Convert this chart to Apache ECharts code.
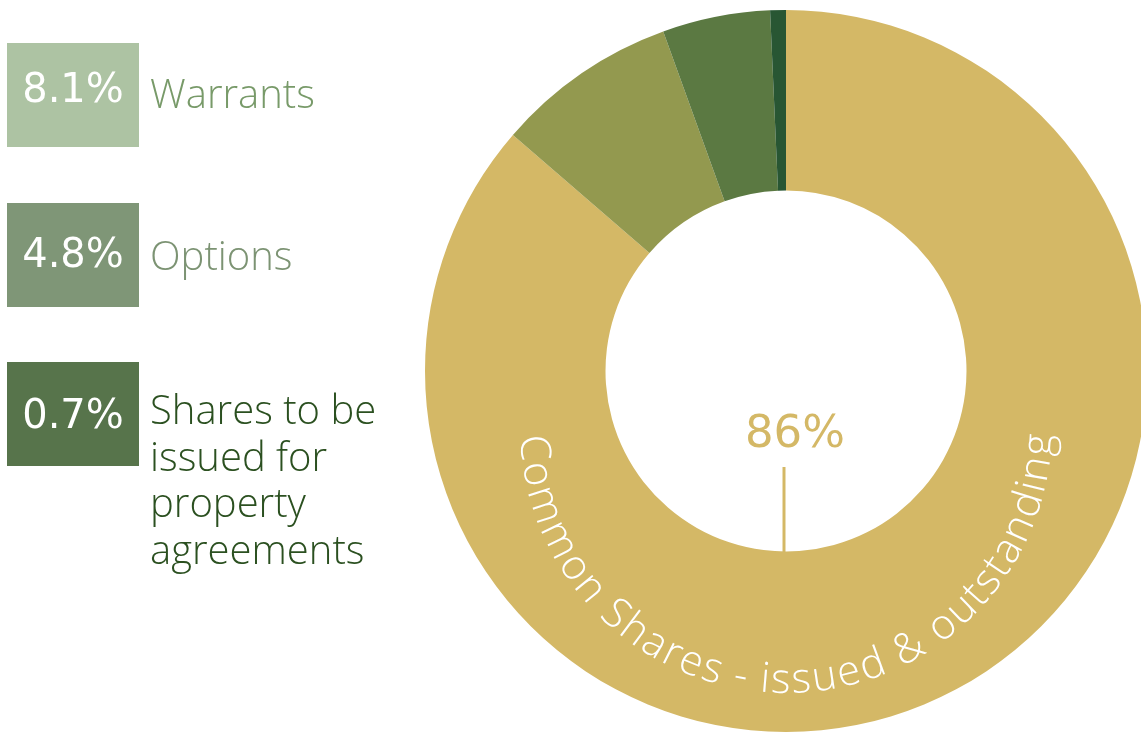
<!DOCTYPE html>
<html>
<head>
<meta charset="utf-8">
<script src="https://cdn.jsdelivr.net/npm/echarts@6/dist/echarts.min.js"></script>
<style>
html,body{margin:0;padding:0;background:#ffffff;}
#chart{width:1141px;height:733px;}
</style>
</head>
<body>
<div id="chart"></div>
<script>
// ---- data ----
const categories = ['Common Shares - issued & outstanding', 'Warrants', 'Options', 'Shares to be issued for property agreements'];
const values = [86, 8.1, 4.8, 0.7];
const legendLabels = ['Warrants', 'Options', 'Shares to be\nissued for\nproperty\nagreements'];
const legendValues = [8.1, 4.8, 0.7];
const centerLabel = '86%';

// ---- styles ----
const sliceColors = ['#d4b866', '#93994f', '#5b7942', '#285633'];
const boxColors = ['#adc3a3', '#7f9677', '#57744b'];
const legendTextColors = ['#789a69', '#7c9373', '#2b5020'];
const TXT_FONT = "'Open Sans', 'Lato', sans-serif";
const NUM_FONT = "'DejaVu Sans', sans-serif";

const chart = echarts.init(document.getElementById('chart'), null, {renderer: 'canvas'});

const graphics = [];

// legend boxes
const boxTops = [43, 203, 362];
const numMid = [92, 257, 418];
const textMid = [97, 259, 413];
legendValues.forEach((v, i) => {
  graphics.push({
    type: 'rect', shape: {x: 7, y: boxTops[i], width: 132, height: 104},
    style: {fill: boxColors[i]}, silent: true
  });
  graphics.push({
    type: 'text', x: 73, y: numMid[i],
    style: {text: v.toFixed(1) + '%', fill: '#ffffff', font: "normal 40px " + NUM_FONT,
            align: 'center', verticalAlign: 'middle'}, silent: true
  });
  const multi = legendLabels[i].indexOf('\n') >= 0;
  graphics.push({
    type: 'text', x: 150, y: multi ? textMid[i] - 23.25 : textMid[i],
    style: {text: legendLabels[i], fill: legendTextColors[i], font: "300 40px " + TXT_FONT,
            lineHeight: 46.5, align: 'left', verticalAlign: multi ? 'top' : 'middle'}, silent: true
  });
});

// center label and leader line
graphics.push({
  type: 'text', x: 795, y: 435,
  style: {text: centerLabel, fill: sliceColors[0], font: "normal 45px " + NUM_FONT,
          align: 'center', verticalAlign: 'middle'}, silent: true
});
graphics.push({
  type: 'line', shape: {x1: 784, y1: 467, x2: 784, y2: 553},
  style: {stroke: sliceColors[0], lineWidth: 3}, silent: true
});

// curved label along the ring
(function () {
  const label = categories[0];
  const cx = 786, cy = 427, R = 254;
  const a0 = 178.2 * Math.PI / 180, a1 = 1.6 * Math.PI / 180;
  const target = (a0 - a1) * R;
  const ctx = document.createElement('canvas').getContext('2d');
  ctx.font = "300 100px " + TXT_FONT;
  const chars = Array.from(label);
  const w100 = chars.map(c => ctx.measureText(c).width);
  const tot100 = w100.reduce((a, b) => a + b, 0);
  const fs = 0.95 * 100 * target / tot100;
  const widths = w100.map(w => w * fs / 100);
  const natural = widths.reduce((a, b) => a + b, 0);
  const track = (target - natural) / (chars.length - 1);
  let cum = 0;
  chars.forEach((c, i) => {
    const s = cum + widths[i] / 2;
    cum += widths[i] + track;
    if (c === ' ') return;
    const th = a0 - s / R;
    graphics.push({
      type: 'text', x: cx + R * Math.cos(th), y: cy + R * Math.sin(th),
      rotation: Math.PI / 2 - th,
      style: {text: c, fill: '#ffffff', font: "300 " + fs.toFixed(2) + "px " + TXT_FONT,
              align: 'center', verticalAlign: 'middle'}, silent: true, z: 10
    });
  });
})();

chart.setOption({
  animation: false,
  backgroundColor: '#ffffff',
  series: [{
    type: 'pie',
    center: [786, 371],
    radius: [180.5, 361],
    startAngle: 90,
    clockwise: true,
    avoidLabelOverlap: false,
    label: {show: false},
    labelLine: {show: false},
    emphasis: {disabled: true},
    itemStyle: {borderWidth: 0},
    data: categories.map((name, i) => ({name: name, value: values[i], itemStyle: {color: sliceColors[i]}}))
  }],
  graphic: graphics
});
</script>
</body>
</html>
